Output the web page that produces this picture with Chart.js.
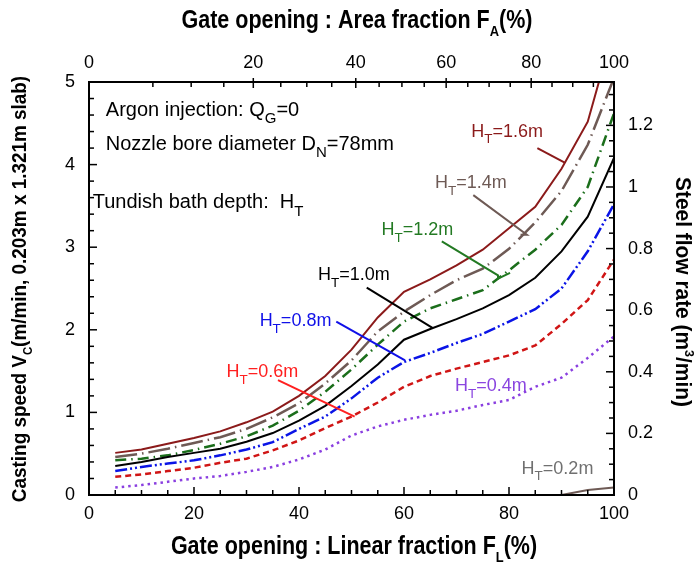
<!DOCTYPE html>
<html>
<head>
<meta charset="utf-8">
<script src="https://cdn.jsdelivr.net/npm/chart.js@4.4.1/dist/chart.umd.min.js"></script>
<style>
  html, body { margin: 0; padding: 0; background: #fff; }
  canvas { display: block; }
</style>
</head>
<body>
<canvas id="chart" width="695" height="562"></canvas>
<script>
// gate opening, linear fraction F_L (%)
const linearFraction = [5, 10, 15, 20, 25, 30, 35, 40, 45, 50, 55, 60, 65, 70, 75, 80, 85, 90, 95, 100];

// casting speed Vc (m/min) for each tundish bath depth H_T
const vc16 = [0.51, 0.55, 0.62, 0.69, 0.77, 0.88, 1.01, 1.20, 1.44, 1.76, 2.15, 2.46, 2.61, 2.78, 2.97, 3.23, 3.49, 3.95, 4.52, 5.65];
const vc14 = [0.46, 0.50, 0.56, 0.63, 0.70, 0.80, 0.94, 1.11, 1.35, 1.63, 1.98, 2.22, 2.42, 2.60, 2.74, 2.98, 3.30, 3.68, 4.24, 5.05];
const vc12 = [0.42, 0.44, 0.48, 0.545, 0.62, 0.71, 0.84, 1.02, 1.25, 1.52, 1.82, 2.10, 2.26, 2.37, 2.48, 2.72, 2.97, 3.27, 3.73, 4.62];
const vc10 = [0.35, 0.40, 0.46, 0.51, 0.56, 0.645, 0.75, 0.90, 1.08, 1.32, 1.58, 1.88, 2.01, 2.13, 2.26, 2.42, 2.63, 2.95, 3.37, 4.08];
const vc08 = [0.29, 0.34, 0.38, 0.42, 0.48, 0.55, 0.64, 0.80, 0.95, 1.17, 1.42, 1.61, 1.72, 1.84, 1.95, 2.10, 2.25, 2.50, 2.95, 3.52];
const vc06 = [0.22, 0.25, 0.29, 0.33, 0.39, 0.44, 0.54, 0.66, 0.81, 0.95, 1.12, 1.31, 1.44, 1.53, 1.61, 1.69, 1.81, 2.07, 2.36, 2.85];
const vc04 = [0.09, 0.12, 0.16, 0.20, 0.23, 0.28, 0.34, 0.43, 0.55, 0.72, 0.83, 0.91, 0.97, 1.02, 1.09, 1.15, 1.31, 1.42, 1.66, 1.92];
const vc02 = [null, null, null, null, null, null, null, null, null, null, null, null, null, null, null, null, null, 0.0, 0.06, 0.09];

// tick labels
const bottomTicks = [0, 20, 40, 60, 80, 100];
const topTicks = [0, 20, 40, 60, 80, 100];      // area fraction F_A (%)
const leftTicks = [0, 1, 2, 3, 4, 5];
const rightTicks = [0, 0.2, 0.4, 0.6, 0.8, 1, 1.2];

// slab 0.203m x 1.321m -> steel flow rate at the top of the speed axis
const slabArea = 0.203 * 1.321;
const speedMax = 5;

const FONT = "'Liberation Sans', Arial, Helvetica, sans-serif";

// slide gate: open area of two overlapping bores vs. linear stroke
function areaFromLinear(fl) {
  const u = 1 - fl / 100;
  return 100 * (2 / Math.PI) * (Math.acos(u) - u * Math.sqrt(1 - u * u));
}
function linearFromArea(fa) {
  let lo = 0, hi = 100;
  for (let i = 0; i < 50; i++) {
    const mid = (lo + hi) / 2;
    if (areaFromLinear(mid) < fa) lo = mid; else hi = mid;
  }
  return (lo + hi) / 2;
}

const pts = arr => linearFraction.map((x, i) => ({ x, y: arr[i] }));

function line(data, color, dash, width) {
  return {
    data: pts(data), borderColor: color, borderDash: dash, borderWidth: width || 2,
    pointRadius: 0, fill: false, tension: 0, xAxisID: 'x', yAxisID: 'y', spanGaps: false
  };
}

// labels on the curves (data coordinates)
const notes = [
  { h: '1.6', color: '#8b1a1a', at: [72.8, 4.34], leader: [[85.4, 4.20], [90.7, 4.02]] },
  { h: '1.4', color: '#6e5a55', at: [65.9, 3.72], leader: [[73.2, 3.63], [83.4, 3.15], [82.2, 3.15]] },
  { h: '1.2', color: '#237a23', at: [55.7, 3.15], leader: [[67.2, 3.07], [77.9, 2.66], [77.9, 2.62], [80.2, 2.69]] },
  { h: '1.0', color: '#000000', at: [43.6, 2.60], leader: [[52.9, 2.51], [65.5, 2.02]] },
  { h: '0.8', color: '#1010e8', at: [32.5, 2.05], leader: [[47.1, 2.10], [60.2, 1.63]] },
  { h: '0.6', color: '#ff2020', at: [26.2, 1.43], leader: [[36.0, 1.39], [50.6, 0.95]] },
  { h: '0.4', color: '#8a45e0', at: [69.7, 1.26], leader: null },
  { h: '0.2', color: '#707070', at: [82.4, 0.26], leader: null }
];

function drawRich(ctx, x, y, parts, size, bold, subScale, subDrop) {
  subScale = subScale || 0.75;
  subDrop = subDrop || 0.38;
  let cx = x;
  for (const [txt, kind] of parts) {
    const s = kind ? size * subScale : size;
    ctx.font = (bold ? 'bold ' : '') + s + 'px ' + FONT;
    const dy = kind === 'sub' ? size * subDrop : kind === 'sup' ? -size * 0.42 : 0;
    ctx.fillText(txt, cx, y + dy);
    cx += ctx.measureText(txt).width;
  }
  return cx - x;
}
function richWidth(ctx, parts, size, bold, subScale) {
  subScale = subScale || 0.75;
  let w = 0;
  for (const [txt, kind] of parts) {
    ctx.font = (bold ? 'bold ' : '') + (kind ? size * subScale : size) + 'px ' + FONT;
    w += ctx.measureText(txt).width;
  }
  return w;
}
function drawTitle(ctx, parts, cx, cy, angle, size, sx) {
  ctx.save();
  ctx.translate(cx, cy);
  ctx.rotate(angle);
  ctx.scale(sx, 1);
  ctx.fillStyle = '#000';
  ctx.textBaseline = 'alphabetic';
  const w = richWidth(ctx, parts, size, true, 0.6);
  drawRich(ctx, -w / 2, size * 0.36, parts, size, true, 0.6, 0.3);
  ctx.restore();
}

const annotations = {
  id: 'annotations',
  afterDatasetsDraw(chart) {
    const { ctx, scales } = chart;
    const px = v => scales.x.getPixelForValue(v);
    const py = v => scales.y.getPixelForValue(v);
    ctx.save();
    ctx.textBaseline = 'alphabetic';
    ctx.fillStyle = '#000';
    drawRich(ctx, px(3.2), py(4.59), [['Argon injection: Q'], ['G', 'sub'], ['=0']], 20);
    drawRich(ctx, px(3.2), py(4.18), [['Nozzle bore diameter D'], ['N', 'sub'], ['=78mm']], 20);
    drawRich(ctx, px(0.7), py(3.47), [['Tundish bath depth:  H'], ['T', 'sub']], 20);

    for (const n of notes) {
      ctx.fillStyle = n.color;
      drawRich(ctx, px(n.at[0]), py(n.at[1]), [['H'], ['T', 'sub'], ['=' + n.h + 'm']], 18);
      if (n.leader) {
        ctx.strokeStyle = n.color;
        ctx.lineWidth = 2;
        ctx.beginPath();
        n.leader.forEach((p, i) => i ? ctx.lineTo(px(p[0]), py(p[1])) : ctx.moveTo(px(p[0]), py(p[1])));
        ctx.stroke();
      }
    }
    ctx.restore();
  }
};

const frame = {
  id: 'frame',
  afterDraw(chart) {
    const { ctx, chartArea: a, scales } = chart;
    ctx.save();
    ctx.strokeStyle = '#000';
    const seg = (x1, y1, x2, y2) => { ctx.beginPath(); ctx.moveTo(x1, y1); ctx.lineTo(x2, y2); ctx.stroke(); };
    ctx.lineWidth = 1.5;
    for (let v = 0; v <= 100; v += 5) {
      const x = scales.x.getPixelForValue(v);
      seg(x, a.bottom, x, a.bottom - (v % 20 === 0 ? 8 : 5));
    }
    for (let fa = 5; fa <= 95; fa += 5) {
      const x = scales.xTop.getPixelForValue(linearFromArea(fa));
      if (fa % 20 === 0) seg(x, a.top - 4, x, a.top + 6); else seg(x, a.top, x, a.top + 5);
    }
    for (let k = 1; k < 25; k++) {
      const y = scales.y.getPixelForValue(k * 0.2);
      seg(a.left, y, a.left + (k % 5 === 0 ? 8 : 5), y);
    }
    for (let k = 1; k * 0.05 < slabArea * speedMax; k++) {
      const y = scales.yRight.getPixelForValue(k * 0.05);
      seg(a.right, y, a.right - (k % 4 === 0 ? 8 : 5), y);
    }
    ctx.lineWidth = 2;
    ctx.strokeRect(a.left, a.top, a.right - a.left, a.bottom - a.top);

    drawTitle(ctx, [['Gate opening : Area fraction F'], ['A', 'sub'], ['(%)']], 357, 19, 0, 25, 0.86);
    drawTitle(ctx, [['Gate opening : Linear fraction F'], ['L', 'sub'], ['(%)']], 354, 545, 0, 25, 0.86);
    drawTitle(ctx, [['Casting speed V'], ['C', 'sub'], ['(m/min, 0.203m x 1.321m slab)']], 18, 289, -Math.PI / 2, 21, 0.9);
    drawTitle(ctx, [['Steel flow rate (m'], ['3', 'sup'], ['/min)']], 684, 292, Math.PI / 2, 22, 0.95);
    ctx.restore();
  }
};

const tickFont = { family: FONT, size: 18 };
const hiddenGrid = { display: false, drawTicks: false };

new Chart(document.getElementById('chart'), {
  type: 'line',
  data: {
    datasets: [
      line(vc02, '#6e5a55', [], 2),
      line(vc04, '#8a3fe0', [2.5, 4], 2.5),
      line(vc06, '#d01515', [6, 4], 2.5),
      line(vc08, '#0a14e6', [12, 3, 2, 3, 2, 3], 2.5),
      line(vc10, '#000000', [], 2),
      line(vc12, '#1b6e1b', [11, 5, 1.5, 5], 2.5),
      line(vc14, '#6e5a55', [22, 5, 1.5, 5], 2.5),
      line(vc16, '#8b1a1a', [], 2)
    ]
  },
  options: {
    responsive: false,
    devicePixelRatio: 1,
    animation: false,
    layout: { padding: 0 },
    plugins: { legend: { display: false }, tooltip: { enabled: false } },
    scales: {
      x: {
        type: 'linear', position: 'bottom', min: 0, max: 100,
        grid: hiddenGrid, border: { display: false },
        afterBuildTicks: s => { s.ticks = bottomTicks.map(v => ({ value: v })); },
        afterFit: s => { s.height = 67; },
        ticks: { font: tickFont, color: '#000', padding: 8, maxRotation: 0, autoSkip: false }
      },
      xTop: {
        type: 'linear', position: 'top', min: 0, max: 100,
        grid: hiddenGrid, border: { display: false },
        afterBuildTicks: s => { s.ticks = topTicks.map(fa => ({ value: linearFromArea(fa) })); },
        afterFit: s => { s.height = 82; },
        ticks: { font: tickFont, color: '#000', padding: 8, maxRotation: 0, autoSkip: false,
                 callback: (v, i) => String(topTicks[i]) }
      },
      y: {
        type: 'linear', position: 'left', min: 0, max: speedMax,
        grid: hiddenGrid, border: { display: false },
        afterBuildTicks: s => { s.ticks = leftTicks.map(v => ({ value: v })); },
        afterFit: s => { s.width = 89; },
        ticks: { font: tickFont, color: '#000', padding: 14, autoSkip: false }
      },
      yRight: {
        type: 'linear', position: 'right', min: 0, max: slabArea * speedMax,
        grid: hiddenGrid, border: { display: false },
        afterBuildTicks: s => { s.ticks = rightTicks.map(v => ({ value: v })); },
        afterFit: s => { s.width = 81; },
        ticks: { font: tickFont, color: '#000', padding: 14, autoSkip: false,
                 callback: (v, i) => String(rightTicks[i]) }
      }
    }
  },
  plugins: [annotations, frame]
});
</script>
</body>
</html>
